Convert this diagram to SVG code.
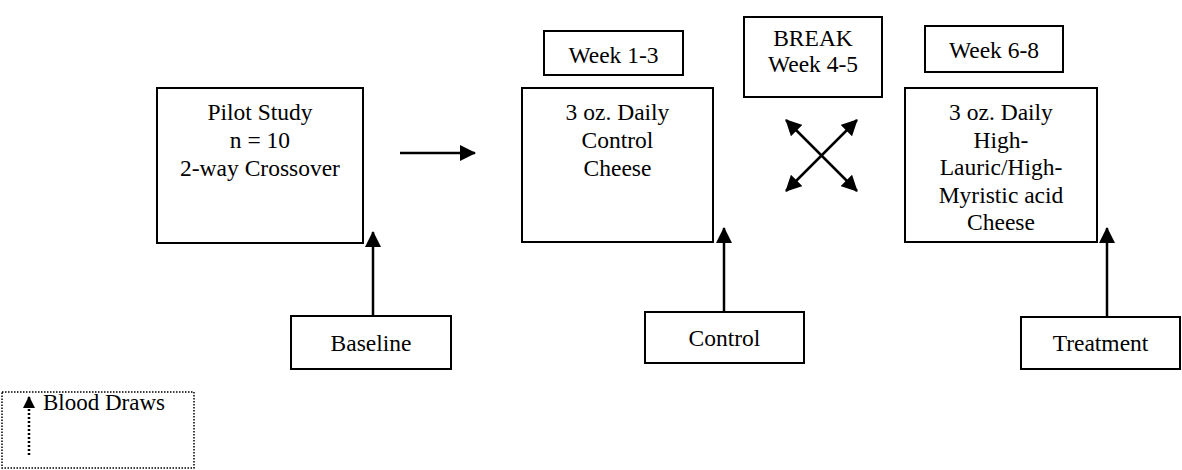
<svg xmlns="http://www.w3.org/2000/svg" width="1182" height="470" viewBox="0 0 1182 470">
<defs>
<marker id="ah" markerUnits="userSpaceOnUse" markerWidth="16" markerHeight="16" viewBox="0 0 16 16" refX="15" refY="8" orient="auto-start-reverse">
<path d="M0,0 L16,8 L0,16 Z" fill="#000"/>
</marker>
<marker id="ahs" markerUnits="userSpaceOnUse" markerWidth="12" markerHeight="12" viewBox="0 0 12 12" refX="11" refY="6" orient="auto">
<path d="M0,0 L12,6 L0,12 Z" fill="#000"/>
</marker>
</defs>
<style>
.box{fill:#fff;stroke:#000;stroke-width:2}
.t{font-family:"Liberation Serif","Times New Roman",serif;font-size:23.5px;fill:#000;text-anchor:middle}
.c{stroke:#000;stroke-width:2.5;fill:none}
</style>
<rect width="1182" height="470" fill="#fff"/>
<g id="pilot">
<rect class="box" x="157" y="88" width="206" height="155"/>
<text class="t" x="260" y="120">Pilot Study</text>
<text class="t" x="260" y="148">n = 10</text>
<text class="t" x="260" y="176">2-way Crossover</text>
</g>
<g id="week13">
<rect class="box" x="544" y="31" width="139" height="44"/>
<text class="t" x="613.5" y="63">Week 1-3</text>
</g>
<g id="control-cheese">
<rect class="box" x="522" y="88" width="191" height="154"/>
<text class="t" x="617.5" y="120">3 oz. Daily</text>
<text class="t" x="617.5" y="148">Control</text>
<text class="t" x="617.5" y="176">Cheese</text>
</g>
<g id="break">
<rect class="box" x="744" y="17" width="138" height="80"/>
<text class="t" x="813" y="46">BREAK</text>
<text class="t" x="813" y="72">Week 4-5</text>
</g>
<g id="week68">
<rect class="box" x="925" y="26" width="138" height="46"/>
<text class="t" x="994" y="58">Week 6-8</text>
</g>
<g id="treatment-cheese">
<rect class="box" x="905" y="88" width="192" height="154"/>
<text class="t" x="1001" y="120">3 oz. Daily</text>
<text class="t" x="1001" y="148">High-</text>
<text class="t" x="1001" y="175">Lauric/High-</text>
<text class="t" x="1001" y="203">Myristic acid</text>
<text class="t" x="1001" y="230">Cheese</text>
</g>
<g id="baseline">
<rect class="box" x="291" y="316" width="160" height="53"/>
<text class="t" x="371" y="351">Baseline</text>
</g>
<g id="control">
<rect class="box" x="645" y="312" width="159" height="51"/>
<text class="t" x="724.5" y="346">Control</text>
</g>
<g id="treatment">
<rect class="box" x="1021" y="317" width="159" height="52"/>
<text class="t" x="1100.5" y="351">Treatment</text>
</g>
<g id="legend">
<rect x="2" y="392" width="192" height="76" fill="none" stroke="#000" stroke-width="1.5" stroke-dasharray="1.5,1.5"/>
<line x1="29" y1="455" x2="29" y2="397" stroke="#000" stroke-width="2.5" stroke-dasharray="2,2" marker-end="url(#ahs)"/>
<text x="43" y="410" font-family="Liberation Serif,Times New Roman,serif" font-size="23px">Blood Draws</text>
</g>
<g id="connectors">
<line class="c" x1="400" y1="153" x2="475" y2="153" marker-end="url(#ah)"/>
<line class="c" x1="373" y1="316" x2="373" y2="232" marker-end="url(#ah)"/>
<line class="c" x1="724" y1="312" x2="724" y2="228" marker-end="url(#ah)"/>
<line class="c" x1="1107" y1="317" x2="1107" y2="228" marker-end="url(#ah)"/>
<line class="c" x1="786" y1="120" x2="857" y2="191" marker-start="url(#ah)" marker-end="url(#ah)"/>
<line class="c" x1="857" y1="120" x2="786" y2="191" marker-start="url(#ah)" marker-end="url(#ah)"/>
</g>
</svg>
